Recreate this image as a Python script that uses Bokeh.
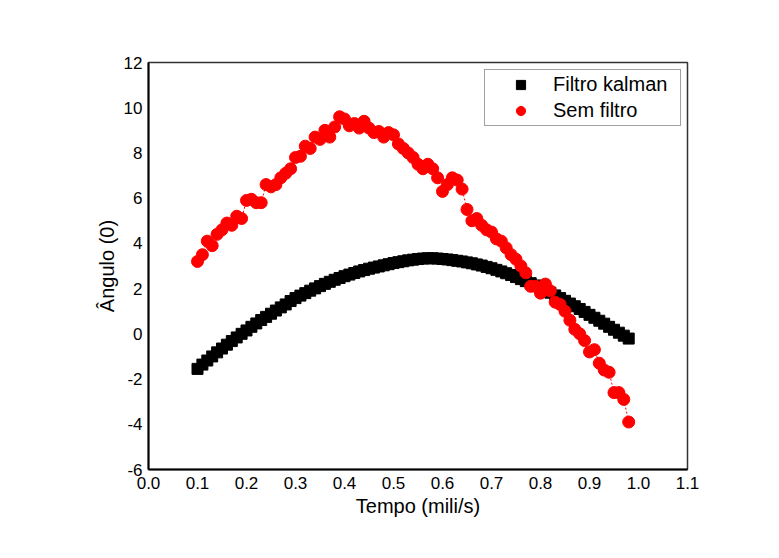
from bokeh.plotting import figure
from bokeh.models import Range1d, FixedTicker, Legend, LegendItem, CustomJSTickFormatter
from bokeh.embed import file_html
from bokeh.resources import INLINE

# ---- data ----
tempo = [0.10, 0.11, 0.12, 0.13, 0.14, 0.15, 0.16, 0.17, 0.18, 0.19,
         0.20, 0.21, 0.22, 0.23, 0.24, 0.25, 0.26, 0.27, 0.28, 0.29,
         0.30, 0.31, 0.32, 0.33, 0.34, 0.35, 0.36, 0.37, 0.38, 0.39,
         0.40, 0.41, 0.42, 0.43, 0.44, 0.45, 0.46, 0.47, 0.48, 0.49,
         0.50, 0.51, 0.52, 0.53, 0.54, 0.55, 0.56, 0.57, 0.58, 0.59,
         0.60, 0.61, 0.62, 0.63, 0.64, 0.65, 0.66, 0.67, 0.68, 0.69,
         0.70, 0.71, 0.72, 0.73, 0.74, 0.75, 0.76, 0.77, 0.78, 0.79,
         0.80, 0.81, 0.82, 0.83, 0.84, 0.85, 0.86, 0.87, 0.88, 0.89,
         0.90, 0.91, 0.92, 0.93, 0.94, 0.95, 0.96, 0.97, 0.98]

filtro_kalman = [-1.55, -1.36, -1.18, -1.00, -0.82, -0.65, -0.48, -0.32, -0.16, 0.00,
                 0.15, 0.31, 0.46, 0.61, 0.75, 0.89, 1.03, 1.17, 1.30, 1.45,
                 1.58, 1.69, 1.80, 1.91, 2.01, 2.11, 2.21, 2.30, 2.39, 2.47,
                 2.55, 2.62, 2.69, 2.76, 2.82, 2.88, 2.93, 2.98, 3.03, 3.08,
                 3.13, 3.17, 3.21, 3.25, 3.28, 3.31, 3.33, 3.34, 3.34, 3.33,
                 3.31, 3.29, 3.26, 3.23, 3.20, 3.16, 3.12, 3.07, 3.02, 2.96,
                 2.90, 2.83, 2.76, 2.68, 2.60, 2.51, 2.42, 2.33, 2.24, 2.14,
                 2.04, 1.93, 1.82, 1.70, 1.58, 1.46, 1.34, 1.22, 1.10, 0.97,
                 0.84, 0.71, 0.58, 0.45, 0.31, 0.18, 0.05, -0.08, -0.21]

sem_filtro = [3.2, 3.5, 4.1, 3.9, 4.4, 4.6, 4.9, 4.8, 5.2, 5.1,
              5.9, 5.95, 5.8, 5.8, 6.6, 6.5, 6.6, 6.9, 7.1, 7.3,
              7.8, 7.85, 8.3, 8.2, 8.7, 8.6, 9.0, 8.7, 9.15, 9.6,
              9.5, 9.2, 9.3, 9.1, 9.4, 9.1, 8.9, 8.95, 8.7, 8.9,
              8.8, 8.4, 8.2, 8.0, 7.8, 7.5, 7.3, 7.5, 7.3, 6.9,
              6.3, 6.6, 6.9, 6.8, 6.4, 5.5, 5.0, 5.1, 4.8, 4.6,
              4.5, 4.2, 4.1, 3.8, 3.5, 3.3, 3.0, 2.7, 2.1, 2.1,
              1.8, 2.2, 1.9, 1.4, 1.3, 1.0, 0.6, 0.2, 0.0, -0.3,
              -0.8, -0.7, -1.3, -1.6, -1.7, -2.6, -2.6, -2.9, -3.9]

x_ticks = [0.0, 0.1, 0.2, 0.3, 0.4, 0.5, 0.6, 0.7, 0.8, 0.9, 1.0, 1.1]
y_ticks = [-6, -4, -2, 0, 2, 4, 6, 8, 10, 12]

FONT = "Liberation Sans"

p = figure(width=768, height=548, output_backend="svg", toolbar_location=None,
           x_range=Range1d(0.0, 1.1), y_range=Range1d(-6, 12),
           min_border_left=148, min_border_top=62, min_border_right=81,
           min_border_bottom=79)
p.grid.grid_line_color = None
p.outline_line_color = "#333333"
p.outline_line_width = 1.5
p.background_fill_color = "white"
p.border_fill_color = "white"

for ax in (p.xaxis[0], p.yaxis[0]):
    ax.axis_line_color = "black"
    ax.axis_line_width = 2
    ax.major_tick_line_color = None
    ax.minor_tick_line_color = None
    ax.major_tick_in = 0
    ax.major_tick_out = 0
    ax.minor_tick_in = 0
    ax.minor_tick_out = 0
    ax.major_label_text_font = FONT
    ax.major_label_text_font_size = "17px"
    ax.major_label_text_color = "black"
    ax.axis_label_text_font = FONT
    ax.axis_label_text_font_size = "20px"
    ax.axis_label_text_font_style = "normal"
    ax.axis_label_text_color = "black"

p.xaxis.ticker = FixedTicker(ticks=x_ticks)
p.yaxis.ticker = FixedTicker(ticks=y_ticks)
p.xaxis.formatter = CustomJSTickFormatter(code="return tick.toFixed(1);")
p.yaxis.formatter = CustomJSTickFormatter(code="return tick.toFixed(0);")
p.xaxis.major_label_standoff = 7
p.yaxis.major_label_standoff = 6
p.xaxis.axis_label = "Tempo (mili/s)"
p.yaxis.axis_label = "Ângulo (0)"
p.xaxis.axis_label_standoff = 3
p.yaxis.axis_label_standoff = 3

r_k = p.scatter(tempo, filtro_kalman, marker="square", size=11,
                fill_color="black", line_color="black")
p.line(tempo, sem_filtro, line_color="red", line_width=1, line_dash="2 2")
r_s = p.scatter(tempo, sem_filtro, marker="circle", size=12,
                fill_color="red", line_color="red")

legend = Legend(items=[LegendItem(label="Filtro kalman", renderers=[r_k]),
                       LegendItem(label="Sem filtro", renderers=[r_s])],
                location=(336, 343))
legend.label_text_font = FONT
legend.label_text_font_size = "20px"
legend.label_text_color = "black"
legend.border_line_color = "#444444"
legend.border_line_width = 1
legend.background_fill_color = "white"
legend.padding = 3
legend.margin = 0
legend.spacing = 3
legend.glyph_width = 65
legend.glyph_height = 23
legend.label_height = 23
legend.label_width = 124
legend.label_standoff = 0
p.add_layout(legend)

open("out.html", "w").write(file_html(p, INLINE))
